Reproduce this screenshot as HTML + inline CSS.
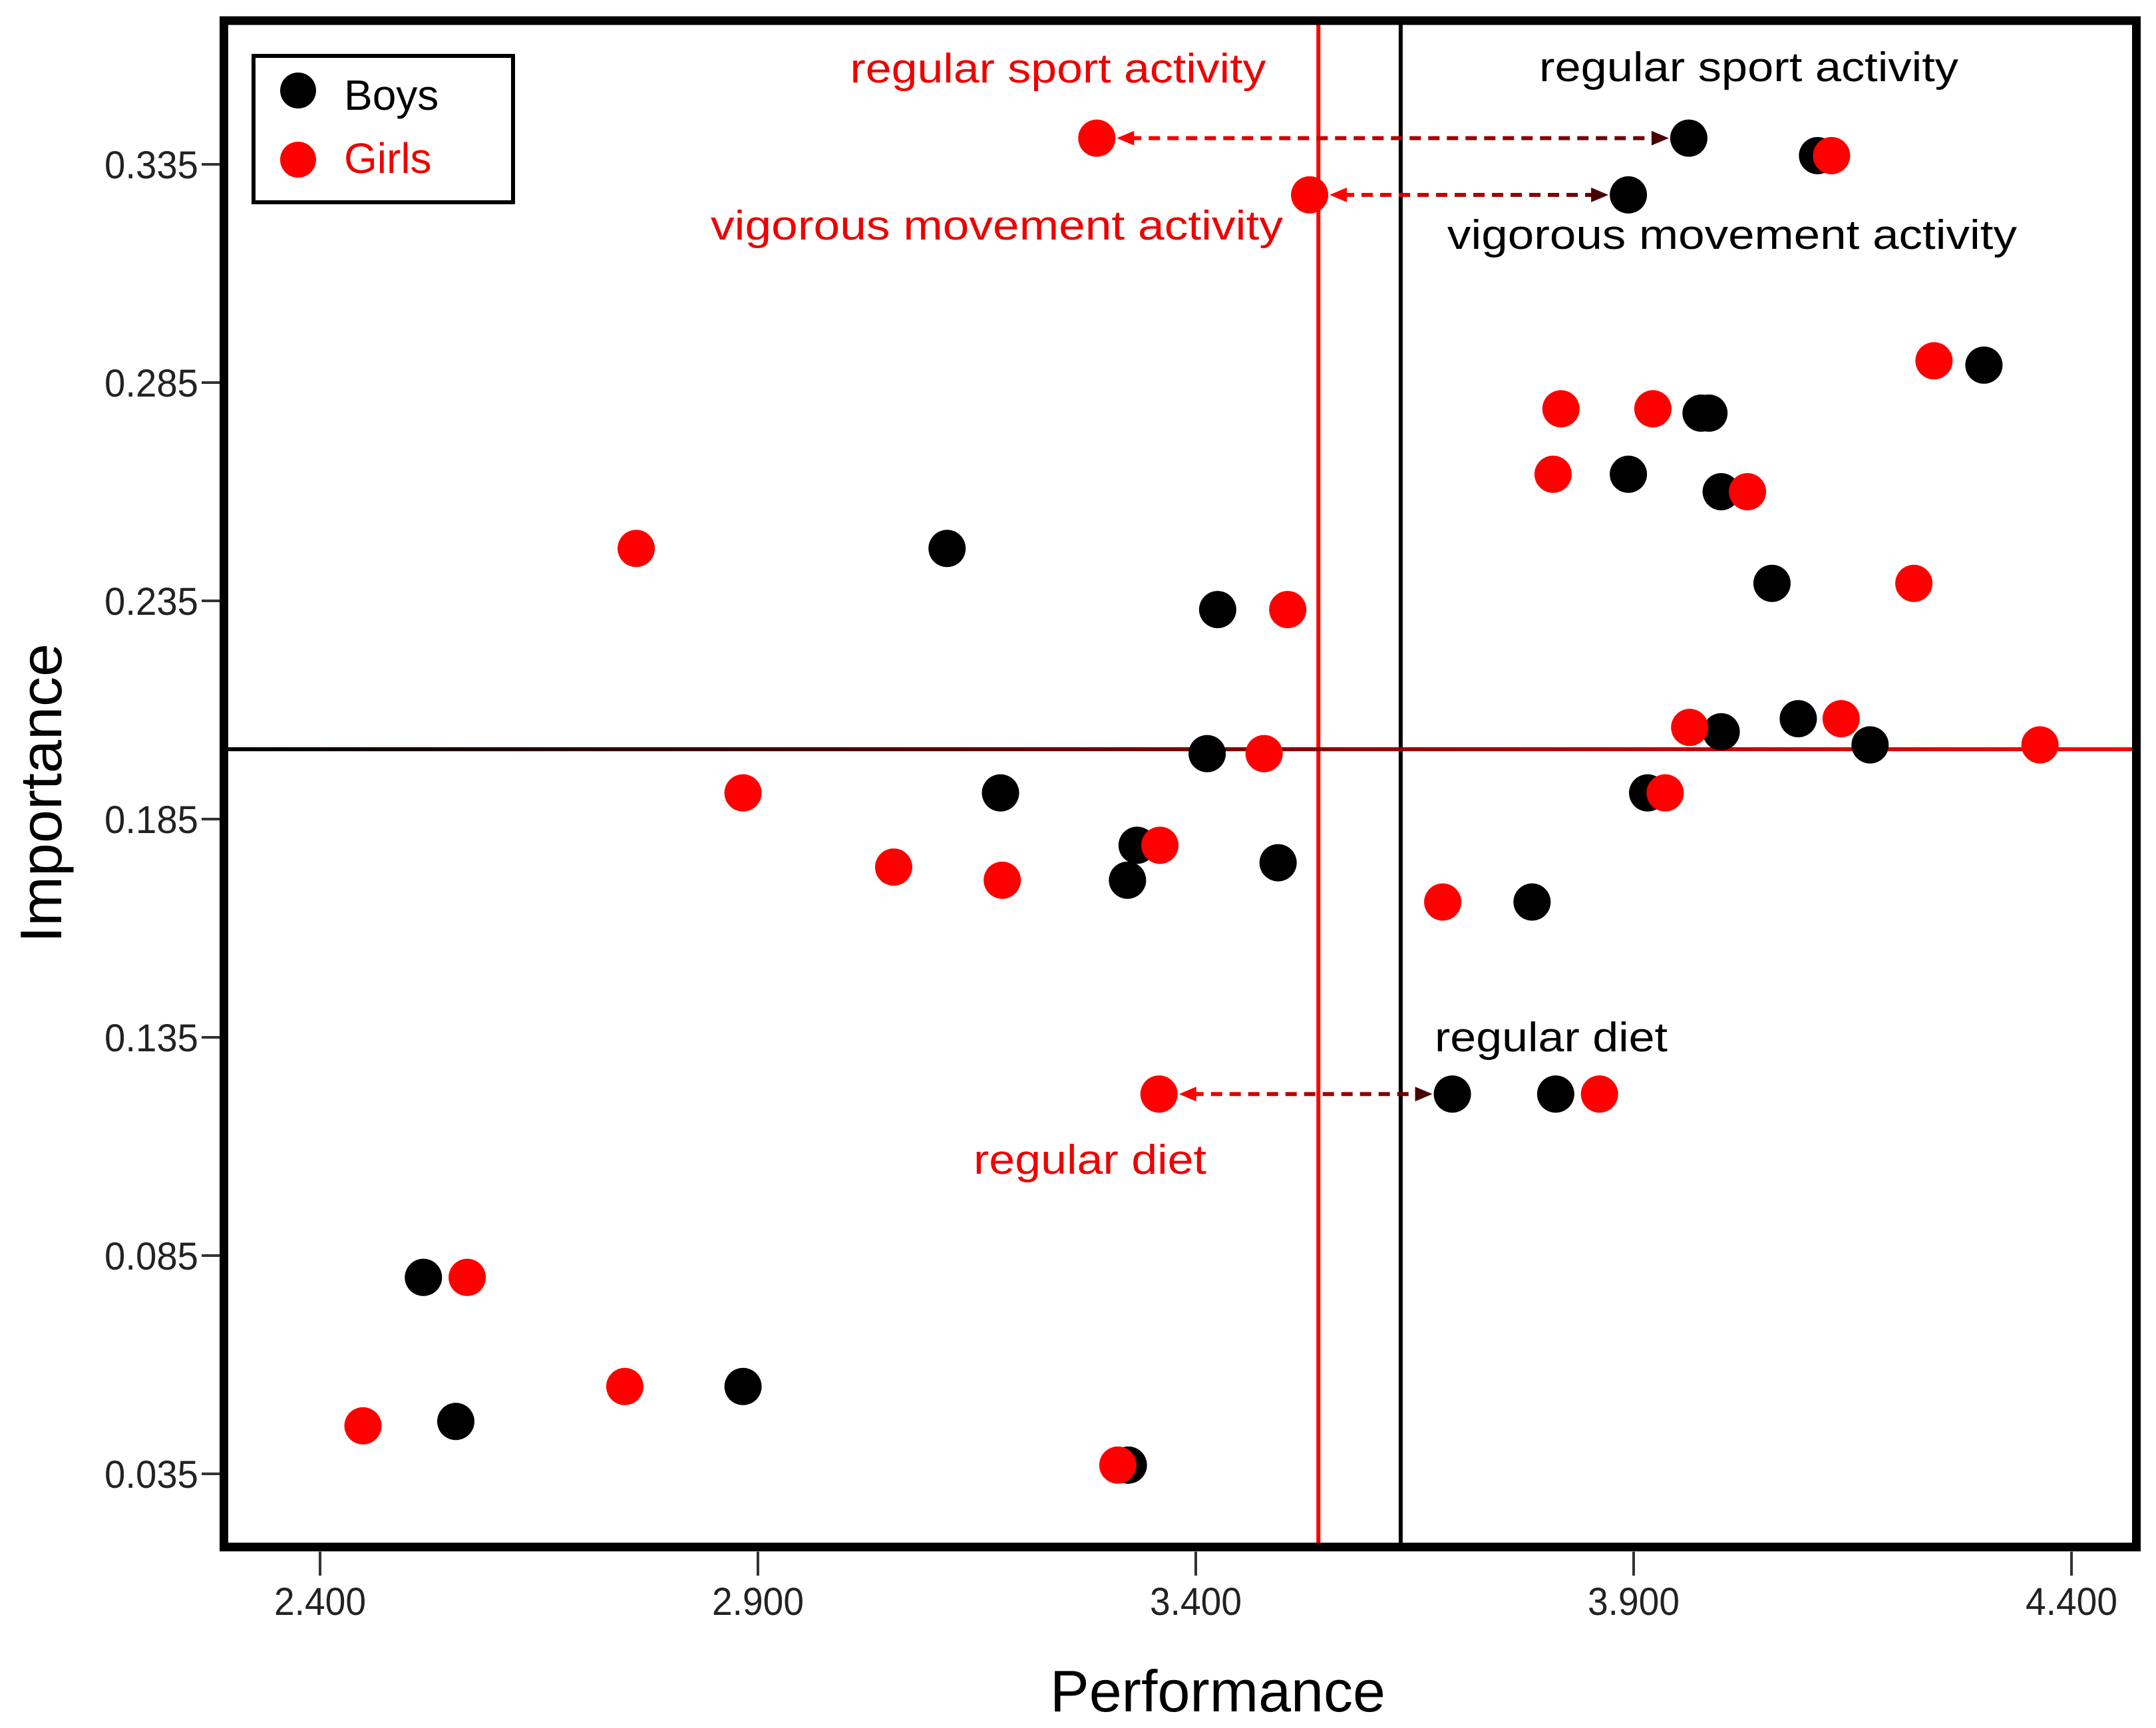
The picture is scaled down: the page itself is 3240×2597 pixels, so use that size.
<!DOCTYPE html>
<html><head><meta charset="utf-8"><style>
html,body{margin:0;padding:0;background:#fff}
svg{display:block;font-family:"Liberation Sans",Arial,sans-serif}
</style></head><body>
<svg id="chart" width="3240" height="2597" viewBox="0 0 3240 2597" xmlns="http://www.w3.org/2000/svg">
<defs>
<linearGradient id="hgrad" x1="0" x2="1" y1="0" y2="0"><stop offset="0" stop-color="#000"/><stop offset="0.45" stop-color="#6a0000"/><stop offset="1" stop-color="#f00"/></linearGradient>
</defs>
<g id="grid"></g>
<g id="marks"></g>
<rect x="336.5" y="31" width="2874" height="2294" fill="none" stroke="#000" stroke-width="13"/>
<g id="axes"></g>
<g>
<rect x="381" y="84" width="390" height="220" fill="#fff" stroke="#000" stroke-width="6"/>
<circle cx="448" cy="136" r="27" fill="#000"/>
<text x="517" y="165" font-size="64" fill="#000">Boys</text>
<circle cx="448" cy="240" r="27" fill="#f00"/>
<text x="517" y="260" font-size="64" fill="#e00">Girls</text>
</g>
<text x="1830" y="2572" font-size="88" text-anchor="middle" textLength="504" lengthAdjust="spacingAndGlyphs">Performance</text>
<text transform="translate(92,1192) rotate(-90)" font-size="88" text-anchor="middle" textLength="450" lengthAdjust="spacingAndGlyphs">Importance</text>
<g font-size="62">
<text x="1590" y="124" fill="#e00" text-anchor="middle" textLength="625" lengthAdjust="spacingAndGlyphs">regular sport activity</text>
<text x="2628" y="122" fill="#000" text-anchor="middle" textLength="630" lengthAdjust="spacingAndGlyphs">regular sport activity</text>
<text x="1498" y="360" fill="#e00" text-anchor="middle" textLength="860" lengthAdjust="spacingAndGlyphs">vigorous movement activity</text>
<text x="2603" y="374" fill="#000" text-anchor="middle" textLength="856" lengthAdjust="spacingAndGlyphs">vigorous movement activity</text>
<text x="2331" y="1580" fill="#000" text-anchor="middle" textLength="350" lengthAdjust="spacingAndGlyphs">regular diet</text>
<text x="1638" y="1764" fill="#e00" text-anchor="middle" textLength="350" lengthAdjust="spacingAndGlyphs">regular diet</text>
</g>
</svg>
<script>
const xTicks=[2.4,2.9,3.4,3.9,4.4];
const xTickLabels=["2.400","2.900","3.400","3.900","4.400"];
const yTicks=[0.035,0.085,0.135,0.185,0.235,0.285,0.335];
const yTickLabels=["0.035","0.085","0.135","0.185","0.235","0.285","0.335"];
const boysX=[3.963,4.110,3.894,4.300,3.977,3.986,3.894,4.000,3.116,4.058,3.425,4.088,4.000,4.170,3.413,3.177,3.916,3.333,3.322,3.494,3.784,3.693,3.811,2.518,2.883,2.555,3.323];
const boysY=[0.341,0.337,0.328,0.289,0.278,0.278,0.264,0.260,0.247,0.239,0.233,0.208,0.205,0.202,0.200,0.191,0.191,0.179,0.171,0.175,0.166,0.122,0.122,0.080,0.055,0.047,0.037];
const girlsX=[3.287,4.126,3.530,4.243,3.817,3.922,3.808,4.030,2.761,4.220,3.505,4.137,3.964,4.364,3.478,2.883,3.936,3.359,3.055,3.179,3.682,3.358,3.861,2.568,2.748,2.449,3.311];
const girlsY=[0.341,0.337,0.328,0.290,0.279,0.279,0.264,0.260,0.247,0.239,0.233,0.208,0.206,0.202,0.200,0.191,0.191,0.179,0.174,0.171,0.166,0.122,0.122,0.080,0.055,0.046,0.037];
const girlsMeanX=[3.540];
const boysMeanX=[3.634];
const meanImportance=[0.201];
const arrowFromX=[3.287,3.530,3.358];
const arrowToX=[3.963,3.894,3.693];
const arrowY=[0.341,0.328,0.122];

const NS="http://www.w3.org/2000/svg";
function sx(v){return 481+(v-2.4)*1316;}
function sy(v){return 2215-(v-0.035)*6560;}
function mk(tag,attrs,parent){const e=document.createElementNS(NS,tag);for(const k in attrs)e.setAttribute(k,attrs[k]);parent.appendChild(e);return e;}
const gridG=document.getElementById('grid'),marksG=document.getElementById('marks'),axesG=document.getElementById('axes');
const plotTop=37,plotBot=2319,plotLeft=343,plotRight=3204;

let ln=mk('line',{x1:sx(girlsMeanX[0]),x2:sx(girlsMeanX[0]),y1:plotTop,y2:plotBot,stroke:'#f00','stroke-width':6},gridG);


ln=mk('line',{x1:sx(boysMeanX[0]),x2:sx(boysMeanX[0]),y1:plotTop,y2:plotBot,stroke:'#000','stroke-width':6},gridG);


ln=mk('rect',{x:plotLeft,y:sy(meanImportance[0])-3,width:plotRight-plotLeft,height:6,fill:'url(#hgrad)'},gridG);



for(let i=0;i<boysX.length;i++){
 const c=mk('circle',{cx:sx(boysX[i]),cy:sy(boysY[i]),r:28,fill:'#000'},marksG);
 
 
}
for(let i=0;i<girlsX.length;i++){
 const c=mk('circle',{cx:sx(girlsX[i]),cy:sy(girlsY[i]),r:28,fill:'#f00'},marksG);
 
 
}
for(let i=0;i<arrowFromX.length;i++){
 const g=mk('g',{},marksG);
 
 
 const x1=sx(arrowFromX[i])+30,x2=sx(arrowToX[i])-30,y=sy(arrowY[i]);
 for(let xx=x1+20;xx<x2-20;xx+=28){
  const t=(xx-x1)/(x2-x1);
  const r=Math.round(255-(255-90)*t);
  mk('rect',{x:xx,y:y-3,width:Math.min(17,x2-20-xx),height:6,fill:`rgb(${r},0,0)`},g);
 }
 mk('polygon',{points:`${x1},${y} ${x1+26},${y-11} ${x1+26},${y+11}`,fill:'#f00'},g);
 mk('polygon',{points:`${x2},${y} ${x2-26},${y-11} ${x2-26},${y+11}`,fill:'#4a0000'},g);
}
xTicks.forEach((v,i)=>{
 const t=mk('line',{x1:sx(v),x2:sx(v),y1:2332,y2:2368,stroke:'#333','stroke-width':4},axesG);
 
 
 const tx=mk('text',{x:sx(v),y:2427,'font-size':58,'text-anchor':'middle',textLength:138,lengthAdjust:'spacingAndGlyphs',fill:'#222'},axesG);
 tx.textContent=xTickLabels[i];
 
 
});
yTicks.forEach((v,i)=>{
 const t=mk('line',{x1:303,x2:330,y1:sy(v),y2:sy(v),stroke:'#333','stroke-width':4},axesG);
 
 
 const tx=mk('text',{x:298,y:sy(v)+21,'font-size':58,'text-anchor':'end',textLength:141,lengthAdjust:'spacingAndGlyphs',fill:'#222'},axesG);
 tx.textContent=yTickLabels[i];
 
 
});
</script>
</body></html>
